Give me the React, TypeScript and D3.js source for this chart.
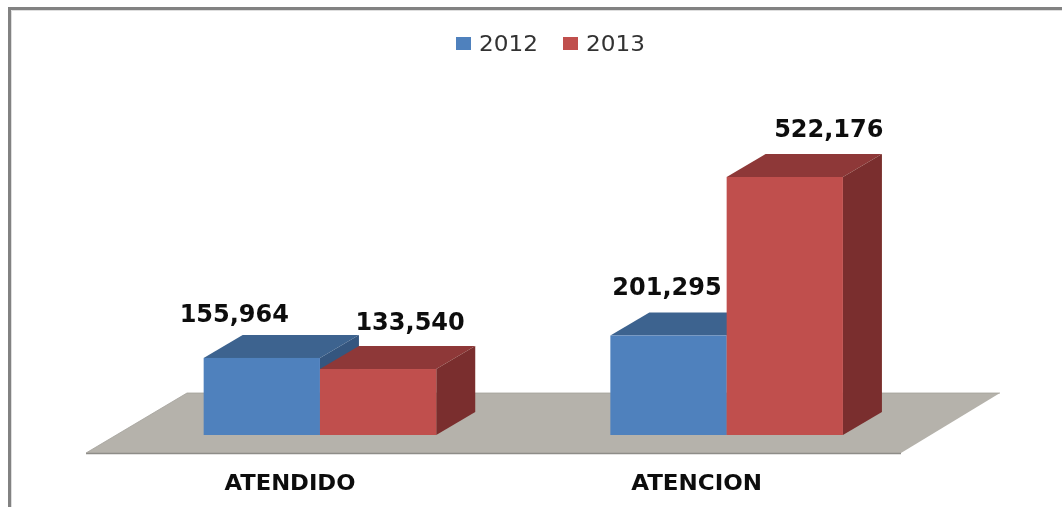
import React from "react";
import * as d3 from "d3";

const categories = ["ATENDIDO", "ATENCION"];
const seriesNames = ["2012", "2013"];
const values2012 = [155964, 201295];
const values2013 = [133540, 522176];

const W = 1062, H = 507;
const BASE_Y = 435, TOP_Y = 177;
const DX = 39, DY = -23;
const FONT = "'DejaVu Sans', sans-serif";
const FRONT = ["#4F81BD", "#C0504D"];
const TOP = ["#3D638F", "#8E3937"];
const SIDE = ["#34567F", "#7A2F2D"];
// label offset from the front-face centre of each bar: [series][category] -> [dx, baseline gap above the front top]
const LABEL_OFFSET = [
  [[-27.5, 35.5], [-1.5, 40.5]],
  [[32, 39.5], [44, 40]],
];

export default function App() {
  const x0 = d3.scaleBand<string>().domain(categories).range([116.6, 930]);
  const x1 = d3.scaleBand<string>().domain(seriesNames).range([0, x0.bandwidth()]).paddingInner(0).paddingOuter(0.7487);
  const y = d3.scaleLinear().domain([0, d3.max(values2013)!]).range([BASE_Y, TOP_Y]);
  const series = [values2012, values2013];
  const poly = (pts: number[][]) => d3.line()(pts as [number, number][]) + "Z";

  return (
    <svg width={W} height={H} style={{ position: "absolute", left: 0, top: 0, display: "block", background: "#fff" }}>
      <defs>
        <filter id="soft" x="-5%" y="-5%" width="110%" height="110%">
          <feGaussianBlur stdDeviation="0.55" />
        </filter>
      </defs>
      <g filter="url(#soft)">
        <path d={`M9.5,${H}V8.5H${W}`} fill="none" stroke="#828282" strokeWidth={3} />
        <path d={`M11.5,${H}V10.5H${W}`} fill="none" stroke="#dedede" strokeWidth={1} />

        <path d={poly([[86, 453], [187, 393], [1000, 393], [901, 453]])} fill="#B5B2AB" />
        <path d="M86,453.5H901" stroke="#8E8D88" strokeWidth={1.6} fill="none" />
        <path d="M86,453L187,393H1000" stroke="#A3A19B" strokeWidth={0.8} fill="none" />

        {series.map((vals, s) =>
          vals.map((v, c) => {
            const xl = x0(categories[c])! + x1(seriesNames[s])!;
            const xr = xl + x1.bandwidth();
            const yt = y(v);
            return (
              <g key={`${s}-${c}`}>
                <path d={poly([[xl, yt], [xl + DX, yt + DY], [xr + DX, yt + DY], [xr, yt]])} fill={TOP[s]} />
                <path d={poly([[xr, yt], [xr + DX, yt + DY], [xr + DX, BASE_Y + DY], [xr, BASE_Y]])} fill={SIDE[s]} />
                <rect x={xl} y={yt} width={xr - xl} height={BASE_Y - yt} fill={FRONT[s]} />
              </g>
            );
          })
        )}

        {series.map((vals, s) =>
          vals.map((v, c) => {
            const xc = x0(categories[c])! + x1(seriesNames[s])! + x1.bandwidth() / 2;
            const [ox, oy] = LABEL_OFFSET[s][c];
            return (
              <text key={`l${s}-${c}`} x={xc + ox} y={y(v) - oy} textAnchor="middle" fontFamily={FONT} fontWeight="bold" fontSize={24} fill="#111">
                {d3.format(",")(v)}
              </text>
            );
          })
        )}

        {categories.map((c) => (
          <text key={c} x={x0(c)! + x0.bandwidth() / 2 - 30} y={490} textAnchor="middle" fontFamily={FONT} fontWeight="bold" fontSize={20.5} textLength={131} lengthAdjust="spacingAndGlyphs" fill="#111">
            {c}
          </text>
        ))}

        {seriesNames.map((n, i) => (
          <g key={n} transform={`translate(${456 + i * 107},0)`}>
            <rect x={0} y={37} width={15} height={13} fill={FRONT[i]} />
            <text x={23} y={51} fontFamily={FONT} fontSize={21.5} textLength={59} lengthAdjust="spacingAndGlyphs" fill="#333">{n}</text>
          </g>
        ))}
      </g>
    </svg>
  );
}
